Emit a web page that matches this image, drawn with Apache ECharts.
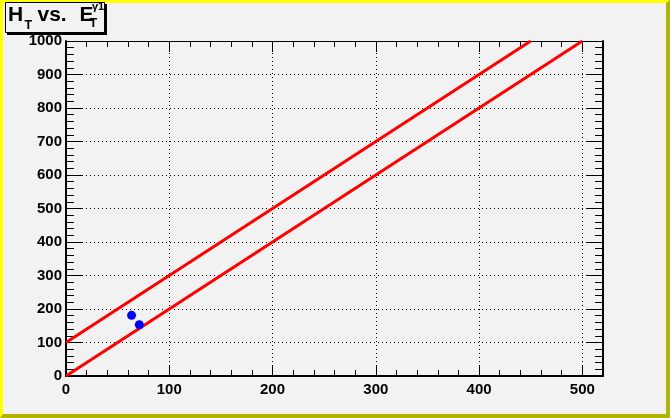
<!DOCTYPE html>
<html><head><meta charset="utf-8">
<script src="https://cdn.jsdelivr.net/npm/echarts@6/dist/echarts.min.js"></script>
<style>html,body{margin:0;padding:0;background:#f2f2f2}#c{width:670px;height:418px}</style>
</head><body><div id="c"></div>
<script>
// Data
const xTicks = [0, 100, 200, 300, 400, 500];
const yTicks = [0, 100, 200, 300, 400, 500, 600, 700, 800, 900, 1000];
const upperLine = [[0, 100], [450, 1000]];
const lowerLine = [[0, 0], [500, 1000]];
const points = [[63.5, 181], [71, 153]];

const chart = echarts.init(document.getElementById('c'), null, {renderer: 'canvas'});
const labelFont = {fontFamily: 'Liberation Sans, Arial, sans-serif', fontWeight: 'bold', fontSize: 15, color: '#000'};
const tf = 'Liberation Sans, Arial, sans-serif';
const W = 670, H = 418;
function txt(x, y, s, size) {
  return {type: 'text', x: x, y: y, silent: true,
    style: {text: s, font: 'bold ' + size + 'px ' + tf, fill: '#000', verticalAlign: 'middle', align: 'left'}};
}
chart.setOption({
  backgroundColor: '#f2f2f2',
  animation: false,
  grid: {left: 66, top: 41, right: 67, bottom: 42, show: false},
  xAxis: [{
    type: 'value', min: 0, max: 520, interval: 100, position: 'bottom',
    axisLine: {show: true, onZero: false, lineStyle: {color: '#000', width: 2}},
    axisTick: {show: true, inside: true, length: 11, lineStyle: {color: '#000', width: 1}},
    minorTick: {show: true, splitNumber: 5, length: 6, lineStyle: {color: '#000', width: 1}},
    axisLabel: Object.assign({margin: 6, showMaxLabel: false}, labelFont),
    splitLine: {show: true, lineStyle: {color: '#000', type: [1, 3], width: 1}}
  }, {
    type: 'value', min: 0, max: 520, interval: 100, position: 'top',
    axisLine: {show: true, onZero: false, lineStyle: {color: '#000', width: 1}},
    axisTick: {show: true, inside: true, length: 11, lineStyle: {color: '#000', width: 1}},
    minorTick: {show: true, splitNumber: 5, length: 6, lineStyle: {color: '#000', width: 1}},
    axisLabel: {show: false}, splitLine: {show: false}
  }],
  yAxis: [{
    type: 'value', min: 0, max: 1000, interval: 100, position: 'left',
    axisLine: {show: true, onZero: false, lineStyle: {color: '#000', width: 2}},
    axisTick: {show: true, inside: true, length: 16, lineStyle: {color: '#000', width: 1}},
    minorTick: {show: true, splitNumber: 5, length: 8, lineStyle: {color: '#000', width: 1}},
    axisLabel: Object.assign({margin: 4, formatter: v => String(v)}, labelFont),
    splitLine: {show: true, lineStyle: {color: '#000', type: [1, 3], width: 1}}
  }, {
    type: 'value', min: 0, max: 1000, interval: 100, position: 'right',
    axisLine: {show: true, onZero: false, lineStyle: {color: '#000', width: 2}},
    axisTick: {show: true, inside: true, length: 16, lineStyle: {color: '#000', width: 1}},
    minorTick: {show: true, splitNumber: 5, length: 8, lineStyle: {color: '#000', width: 1}},
    axisLabel: {show: false}, splitLine: {show: false}
  }],
  series: [
    {type: 'line', data: upperLine, showSymbol: false, lineStyle: {color: '#ff0000', width: 3}, z: 3},
    {type: 'line', data: lowerLine, showSymbol: false, lineStyle: {color: '#ff0000', width: 3}, z: 3},
    {type: 'scatter', data: points, symbol: 'circle', symbolSize: 9, itemStyle: {color: '#0000ff', opacity: 1}, z: 4}
  ],
  graphic: [
    {type: 'polygon', shape: {points: [[0,0],[W,0],[W-3,3],[3,3],[3,H-3],[0,H]]}, style: {fill: '#ffff00'}, silent: true},
    {type: 'polygon', shape: {points: [[W,0],[W,H],[0,H],[3,H-4],[W-4,H-4],[W-4,3]]}, style: {fill: '#b3b300'}, silent: true},
    {type: 'rect', shape: {x: 7, y: 4, width: 100, height: 31}, style: {fill: '#000'}, silent: true},
    {type: 'rect', shape: {x: 5.5, y: 2.5, width: 99, height: 30}, style: {fill: '#f2f2f2', stroke: '#000', lineWidth: 1}, silent: true},
    txt(8, 15.5, 'H', 21),
    txt(24.5, 26, 'T', 12.5),
    txt(37.5, 15.5, 'vs.', 21),
    txt(79.5, 15.5, 'E', 21),
    txt(89.5, 24, 'T', 12.5),
    txt(92, 7, 'γ1', 11)
  ]
});
</script></body></html>
